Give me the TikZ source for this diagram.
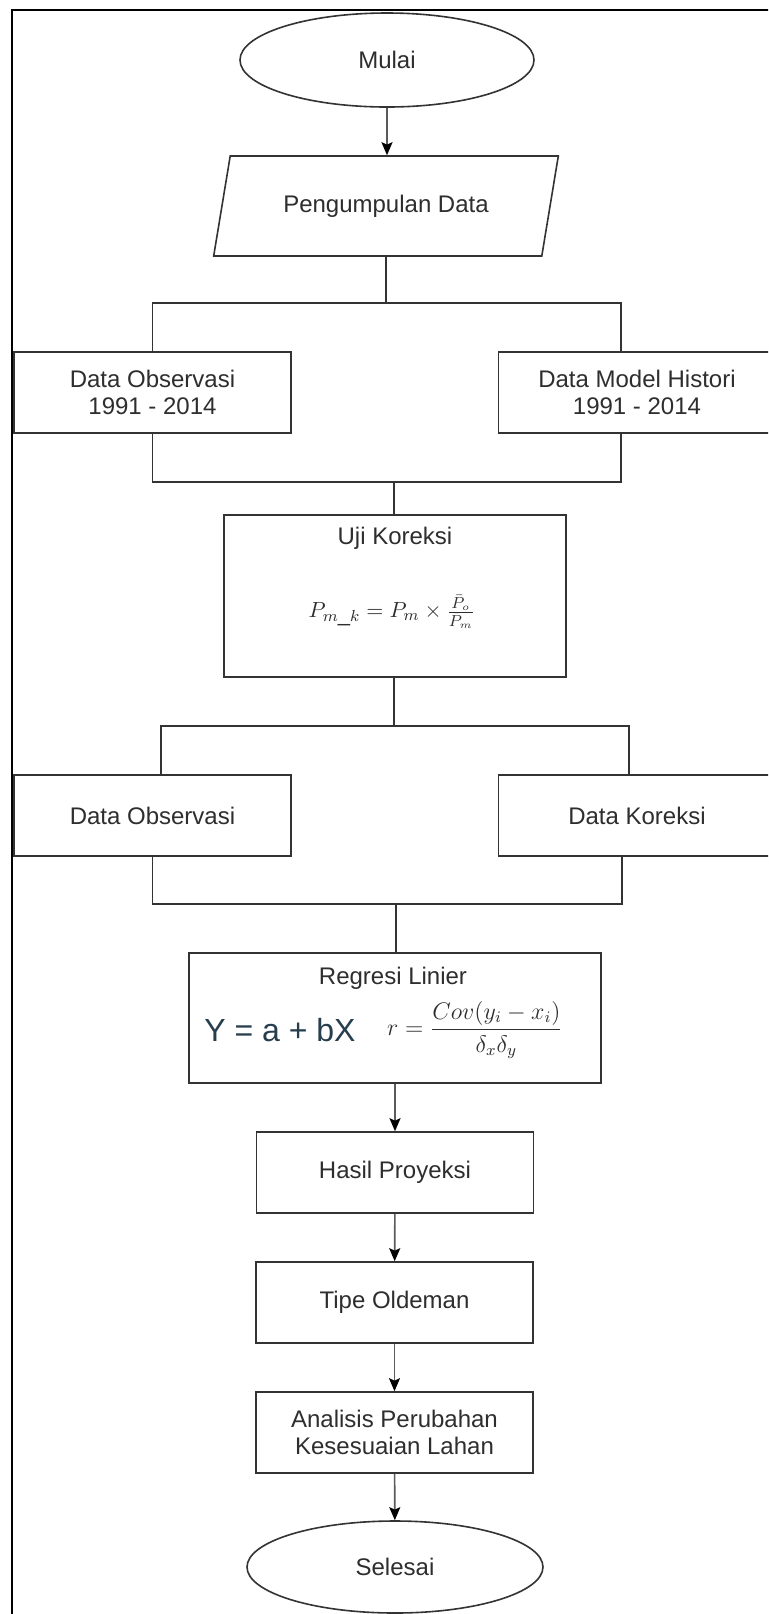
\documentclass[tikz,border=0pt]{standalone}
\usepackage[no-math]{fontspec}
\setmainfont{Liberation Sans}
\usetikzlibrary{shapes.geometric,arrows.meta}
\definecolor{ln}{HTML}{333333}
\definecolor{tx}{HTML}{2E2E2E}
\definecolor{shaft}{HTML}{5A5A5A}
\definecolor{eqblue}{HTML}{263E4E}
\begin{document}
\begin{tikzpicture}[x=0.5pt,y=-0.5pt,
  font=\fontsize{12}{13.5}\selectfont, text=tx,
  box/.style={draw=ln,line width=0.8pt,minimum width=138.5pt,minimum height=40.5pt,align=center,inner sep=0pt},
  term/.style={ellipse,draw=ln,line width=0.8pt,minimum width=147pt,minimum height=47pt,inner sep=0pt},
  io/.style={trapezium,trapezium left angle=72,trapezium right angle=108,trapezium stretches=true,draw=ln,line width=0.8pt,minimum width=172.5pt,minimum height=50pt},
  link/.style={draw=ln,line width=0.8pt},
  arr/.style={draw=shaft,line width=0.8pt,-{Stealth[length=6.5pt,width=5.5pt,inset=1.2pt,color=black]}}]
\fill[white] (0,0) rectangle (768,1614);
\useasboundingbox (0,0) rectangle (768,1614);
\clip (0,0) rectangle (768,1614);
\draw[line width=1.2pt,black] (12,1630) -- (12,10) -- (780,10);

\node[term] (mulai) at (387,60) {Mulai};
\node[io] (kumpul) at (386,206) {Pengumpulan Data};
\node[box] (obs) at (152.5,392.5) {Data Observasi\\1991 - 2014};
\node[box] (hist) at (637,392.5) {Data Model Histori\\1991 - 2014};
\node[box,minimum width=171pt,minimum height=81pt] (uji) at (395,596) {};
\node (ujijudul) at (395,538) {Uji Koreksi};
\node[font=\fontsize{11}{13}\selectfont] (ujirumus) at (392,612) {$P_{m\_k} = P_m \times \frac{\bar{P}_o}{\bar{P}_m}$};
\node[box] (obs2) at (152.5,815.5) {Data Observasi};
\node[box] (kor) at (637,815.5) {Data Koreksi};
\node[box,minimum width=206pt,minimum height=65pt] (reg) at (395,1018) {};
\node (regjudul) at (393,978) {Regresi Linier};
\node[text=eqblue,font=\fontsize{16}{18}\selectfont] (regy) at (280,1030) {Y = a + bX};
\node[font=\fontsize{12}{14}\selectfont] (regr) at (475,1030) {$r = \displaystyle\frac{Cov(y_i - x_i)}{\delta_x\delta_y}$};
\node[box] (hasil) at (395,1172.5) {Hasil Proyeksi};
\node[box] (tipe) at (394.5,1302.5) {Tipe Oldeman};
\node[box] (anls) at (394.5,1432.5) {Analisis Perubahan\\Kesesuaian Lahan};
\node[term,minimum width=148pt,minimum height=46pt] (selesai) at (395,1567) {Selesai};

\coordinate (c1) at (386,303);
\coordinate (c2) at (394,482);
\coordinate (c3) at (394,726);
\coordinate (c4) at (396,904);

\draw[arr] (mulai.south) -- (mulai.south |- kumpul.north);
\draw[link] (c1 |- kumpul.south) -- (c1);
\draw[link] (obs.north) |- (c1) -| ([xshift=-8pt]hist.north);
\draw[link] (obs.south) |- (c2) -| ([xshift=-8pt]hist.south);
\draw[link] (c2) -- (c2 |- uji.north);
\draw[link] (c3 |- uji.south) -- (c3);
\draw[link] ([xshift=4.25pt]obs2.north) |- (c3) -| ([xshift=-4pt]kor.north);
\draw[link] (obs2.south) |- (c4) -| ([xshift=-7.5pt]kor.south);
\draw[link] (c4) -- (c4 |- reg.north);
\draw[arr] (reg) -- (hasil);
\draw[arr] (hasil) -- (tipe);
\draw[arr] (tipe) -- (anls);
\draw[arr] (anls) -- (selesai);
\end{tikzpicture}
\end{document}
